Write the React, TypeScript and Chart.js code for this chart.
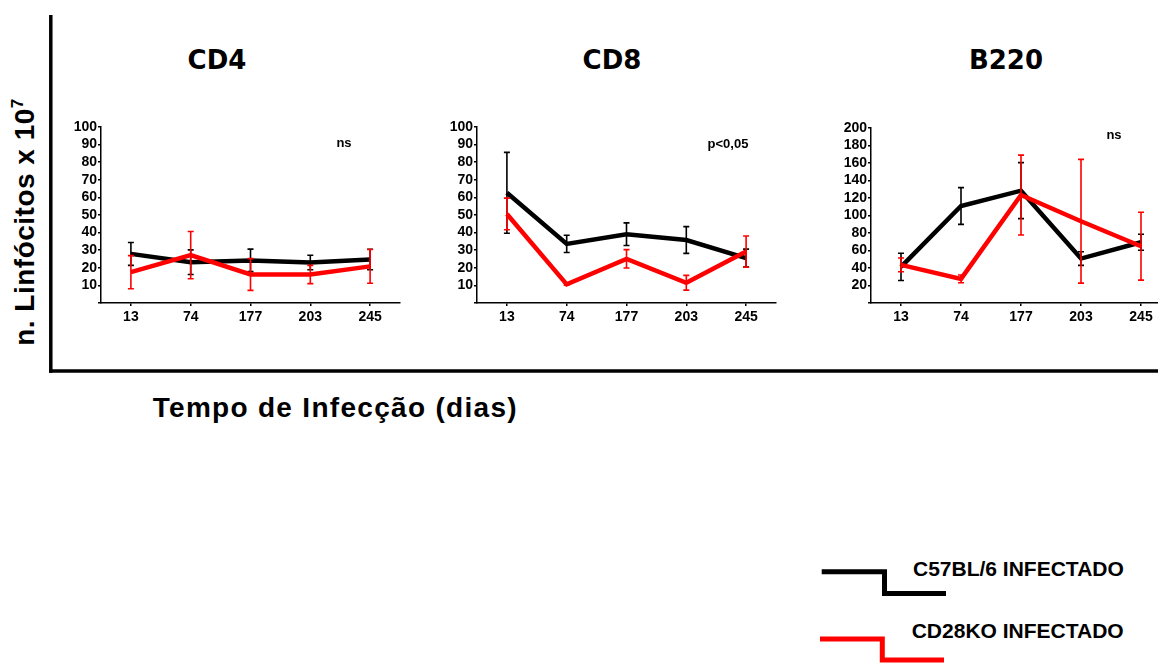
import React, { useEffect, useRef } from 'react';
import { Chart, registerables } from 'chart.js';

Chart.register(...registerables);

// ---------- data ----------
const days = ['13', '74', '177', '203', '245'];

const cd4C57 = [27.9, 23.2, 24.2, 23.0, 24.7];
const cd4C57Sem = [6.5, 7.0, 6.4, 4.1, 5.8];
const cd4Cd28 = [17.5, 27.2, 16.2, 16.2, 20.8];
const cd4Cd28Sem = [9.4, 13.4, 9.0, 5.2, 9.6];

const cd8C57 = [62.6, 33.6, 39.1, 35.8, 25.5];
const cd8C57Sem = [23.0, 4.9, 6.4, 7.6, 5.1];
const cd8Cd28 = [50.6, 10.6, 25.1, 11.5, 29.2];
const cd8Cd28Sem = [9.0, 0.5, 5.2, 4.2, 8.9];

const b220C57 = [41.3, 110.9, 128.4, 50.8, 69.4];
const b220C57Sem = [15.6, 21.0, 32.0, 7.8, 9.1];
const b220Cd28 = [43.6, 27.6, 123.4, 93.4, 64.9];
const b220Cd28Sem = [7.8, 4.4, 45.6, 70.7, 38.8];

const yMaxCd = 100;
const yStepCd = 10;
const yMaxB220 = 200;
const yStepB220 = 20;

const panelTitles = ['CD4', 'CD8', 'B220'];
const panelStats = ['ns', 'p<0,05', 'ns'];
const seriesNames = ['C57BL/6 INFECTADO', 'CD28KO INFECTADO'];
const yAxisTitle = 'n. Linfócitos x 10';
const yAxisExp = '7';
const xAxisTitle = 'Tempo de Infecção (dias)';

const BLACK = '#000000';
const RED = '#ff0000';
const SANS = "'Liberation Sans', Arial, Helvetica, sans-serif";
const TITLE_FONT = "'DejaVu Sans', 'Liberation Sans', sans-serif";

// ---------- error bar plugin ----------
const errorBarPlugin = {
  id: 'semBars',
  afterDatasetDraw(chart: any, args: any) {
    const ds = chart.data.datasets[args.index];
    const errs: number[] | undefined = ds.sem;
    if (!errs) return;
    const yScale = chart.scales.y;
    const ctx = chart.ctx;
    ctx.save();
    ctx.strokeStyle = ds.borderColor;
    ctx.lineWidth = 1.6;
    args.meta.data.forEach((pt: any, j: number) => {
      const v = ds.data[j];
      const e = errs[j];
      const x = pt.x;
      const yHi = yScale.getPixelForValue(v + e);
      const yLo = yScale.getPixelForValue(v - e);
      ctx.beginPath();
      ctx.moveTo(x, yHi);
      ctx.lineTo(x, yLo);
      ctx.moveTo(x - 3, yHi);
      ctx.lineTo(x + 3, yHi);
      ctx.moveTo(x - 3, yLo);
      ctx.lineTo(x + 3, yLo);
      ctx.stroke();
    });
    ctx.restore();
  },
};

type PanelProps = {
  black: number[];
  blackSem: number[];
  red: number[];
  redSem: number[];
  yMax: number;
  yStep: number;
  left: number;
  top: number;
  right: number;
  bottom: number;
};

const Y_W = 50;
const X_H = 35;
const PAD_T = 15;
const PAD_R = 4;

function Panel(p: PanelProps) {
  const ref = useRef<HTMLCanvasElement>(null);
  const cl = p.left - Y_W;
  const ct = p.top - PAD_T;
  const cw = p.right - p.left + Y_W + PAD_R;
  const ch = p.bottom - p.top + PAD_T + X_H;

  useEffect(() => {
    if (!ref.current) return;
    const chart = new Chart(ref.current, {
      type: 'line',
      data: {
        labels: days,
        datasets: [
          {
            label: seriesNames[0],
            data: p.black,
            sem: p.blackSem,
            borderColor: BLACK,
            backgroundColor: BLACK,
            borderWidth: 4.5,
            pointRadius: 0,
            tension: 0,
            fill: false,
            order: 1,
          } as any,
          {
            label: seriesNames[1],
            data: p.red,
            sem: p.redSem,
            borderColor: RED,
            backgroundColor: RED,
            borderWidth: 4.5,
            pointRadius: 0,
            tension: 0,
            fill: false,
            order: 0,
          } as any,
        ],
      },
      options: {
        responsive: false,
        animation: false,
        devicePixelRatio: 1,
        layout: { padding: { top: PAD_T, right: PAD_R, left: 0, bottom: 0 } },
        plugins: {
          legend: { display: false },
          tooltip: { enabled: false },
          title: { display: false },
        },
        scales: {
          x: {
            type: 'category',
            offset: true,
            afterFit: (s: any) => {
              s.height = X_H;
            },
            grid: {
              display: true,
              drawOnChartArea: false,
              drawTicks: true,
              tickLength: 3,
              color: BLACK,
              lineWidth: 1.5,
              offset: false,
            },
            border: { display: true, color: BLACK, width: 1.5 },
            ticks: {
              color: BLACK,
              padding: 3,
              maxRotation: 0,
              autoSkip: false,
              font: { family: SANS, size: 14, weight: 'bold' },
            },
          },
          y: {
            type: 'linear',
            min: 0,
            max: p.yMax,
            afterFit: (s: any) => {
              s.width = Y_W;
            },
            grid: {
              display: true,
              drawOnChartArea: false,
              drawTicks: true,
              tickLength: 3,
              color: BLACK,
              lineWidth: 1.5,
            },
            border: { display: true, color: BLACK, width: 1.5 },
            ticks: {
              stepSize: p.yStep,
              autoSkip: false,
              color: BLACK,
              padding: 1,
              font: { family: SANS, size: 14, weight: 'bold' },
              callback: (v: any) => (Number(v) === 0 ? '' : String(v)),
            },
          },
        },
      } as any,
      plugins: [errorBarPlugin],
    });
    return () => chart.destroy();
  }, []);

  return (
    <canvas
      ref={ref}
      width={cw}
      height={ch}
      style={{ position: 'absolute', left: cl, top: ct, width: cw, height: ch }}
    />
  );
}

function Text(props: {
  x: number;
  y: number;
  size: number;
  family: string;
  align?: 'left' | 'center';
  spacing?: number;
  children: React.ReactNode;
}) {
  const { x, y, size, family, align = 'left', spacing = 0 } = props;
  return (
    <div
      style={{
        position: 'absolute',
        left: x,
        top: y - size / 2,
        fontFamily: family,
        fontWeight: 'bold',
        fontSize: size,
        lineHeight: `${size}px`,
        whiteSpace: 'nowrap',
        color: BLACK,
        letterSpacing: spacing,
        transform: align === 'center' ? 'translateX(-50%)' : undefined,
      }}
    >
      {props.children}
    </div>
  );
}

export default function App() {
  return (
    <div
      style={{
        position: 'fixed',
        left: 0,
        top: 0,
        width: 1158,
        height: 663,
        overflow: 'hidden',
        background: '#ffffff',
      }}
    >
      <svg
        width={1158}
        height={663}
        style={{ position: 'absolute', left: 0, top: 0 }}
      >
        {/* outer frame */}
        <line x1={50.8} y1={15} x2={50.8} y2={372.7} stroke={BLACK} strokeWidth={3.5} />
        <line x1={49} y1={371} x2={1158} y2={371} stroke={BLACK} strokeWidth={3.5} />
        {/* legend symbols */}
        <polyline
          points="821.7,571.7 884.5,571.7 884.5,593.5 946,593.5"
          fill="none"
          stroke={BLACK}
          strokeWidth={5}
          strokeLinejoin="miter"
        />
        <polyline
          points="820,639 882.3,639 882.3,660 944,660"
          fill="none"
          stroke={RED}
          strokeWidth={5}
          strokeLinejoin="miter"
        />
      </svg>

      <Panel
        black={cd4C57}
        blackSem={cd4C57Sem}
        red={cd4Cd28}
        redSem={cd4Cd28Sem}
        yMax={yMaxCd}
        yStep={yStepCd}
        left={101}
        top={127}
        right={400}
        bottom={303}
      />
      <Panel
        black={cd8C57}
        blackSem={cd8C57Sem}
        red={cd8Cd28}
        redSem={cd8Cd28Sem}
        yMax={yMaxCd}
        yStep={yStepCd}
        left={477}
        top={127}
        right={776}
        bottom={303}
      />
      <Panel
        black={b220C57}
        blackSem={b220C57Sem}
        red={b220Cd28}
        redSem={b220Cd28Sem}
        yMax={yMaxB220}
        yStep={yStepB220}
        left={871}
        top={128}
        right={1171}
        bottom={303}
      />

      {/* panel titles */}
      <Text x={217} y={60} size={26} family={TITLE_FONT} align="center">
        {panelTitles[0]}
      </Text>
      <Text x={612} y={60} size={26} family={TITLE_FONT} align="center">
        {panelTitles[1]}
      </Text>
      <Text x={1006} y={60} size={26} family={TITLE_FONT} align="center">
        {panelTitles[2]}
      </Text>

      {/* statistics */}
      <Text x={344} y={142} size={13} family={SANS} align="center">
        {panelStats[0]}
      </Text>
      <Text x={728} y={143.3} size={13} family={SANS} align="center">
        {panelStats[1]}
      </Text>
      <Text x={1114} y={134} size={13} family={SANS} align="center">
        {panelStats[2]}
      </Text>

      {/* axis titles */}
      <Text x={152.7} y={407.5} size={28} family={SANS} spacing={1.3}>
        {xAxisTitle}
      </Text>
      <div
        style={{
          position: 'absolute',
          left: 27,
          top: 221.5,
          transform: 'translate(-50%, -50%) rotate(-90deg)',
          fontFamily: SANS,
          fontWeight: 'bold',
          fontSize: 28,
          lineHeight: '28px',
          whiteSpace: 'nowrap',
          letterSpacing: 0.5,
          color: BLACK,
        }}
      >
        {yAxisTitle}
        <span style={{ fontSize: 17, position: 'relative', top: -11 }}>{yAxisExp}</span>
      </div>

      {/* legend text */}
      <Text x={913} y={568.8} size={21} family={SANS}>
        {seriesNames[0]}
      </Text>
      <Text x={911.7} y={630.8} size={21} family={SANS}>
        {seriesNames[1]}
      </Text>
    </div>
  );
}
